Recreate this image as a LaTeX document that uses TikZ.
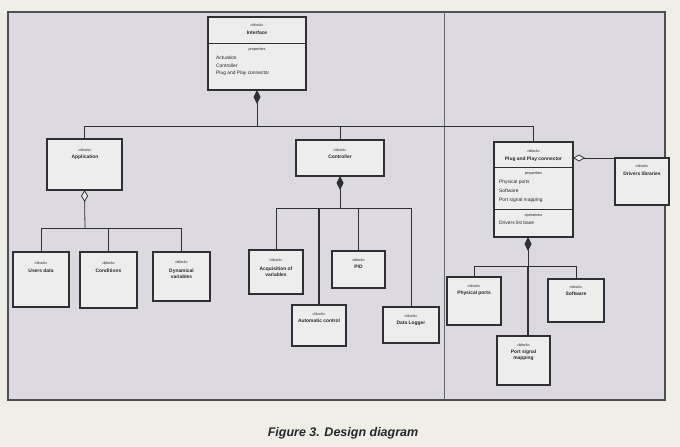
\documentclass[tikz,border=0pt]{standalone}
\usepackage{fontspec}
\setmainfont{Liberation Sans}
\usetikzlibrary{arrows.meta}
\definecolor{pagec}{HTML}{EFEFE8}
\definecolor{framec}{HTML}{DCDAE0}
\definecolor{boxc}{HTML}{EEEDEE}
\definecolor{linec}{HTML}{303034}
\definecolor{txtc}{HTML}{26262A}
\begin{document}
\begin{tikzpicture}[x=1pt,y=-1pt,
 box/.style={draw=linec, line width=1.1pt, fill=boxc, anchor=north west, inner sep=0pt, outer sep=0pt},
 st/.style={font=\fontsize{3.8}{4.5}\selectfont, inner sep=0pt, text=txtc},
 nm/.style={font=\bfseries\fontsize{4.9}{6.2}\selectfont, inner sep=0pt, align=center, text=txtc},
 pr/.style={font=\fontsize{4.9}{6}\selectfont, inner sep=0pt, anchor=west, text=txtc},
 ln/.style={draw=linec, line width=0.8pt},
 comp/.style={ln, {Diamond[length=14pt,width=7pt,fill=linec]}-},
 agg/.style={ln, {Diamond[length=12pt,width=7pt,open,fill=boxc]}-}]
\useasboundingbox (0,0) rectangle (680,447);
\fill[pagec] (0,0) rectangle (680,447);
\draw[draw=linec!85, line width=1.3pt, fill=framec] (8,12) rectangle (665,400);
\draw[draw=linec!75, line width=0.8pt] (444,12) -- (444,400);

% Interface
\node[box, minimum width=98, minimum height=73] (iface) at (208,17) {};
\node[st] (ifs) at (257,25) {«block»};
\node[nm] (ifn) at (257,33) {Interface};
\draw[ln] (208,43) -- (306,43);
\node[st] (ifp) at (257,50) {properties};
\node[pr] (if1) at (216,58) {Actuation};
\node[pr] (if2) at (216,65.5) {Controller};
\node[pr] (if3) at (216,73) {Plug and Play connector};

% Application
\node[box, minimum width=75, minimum height=51] (app) at (47,139) {};
\node[st] (apps) at (85,150) {«block»};
\node[nm] (appn) at (85,157) {Application};

% Controller
\node[box, minimum width=88, minimum height=36] (ctrl) at (296,140) {};
\node[st] (ctrls) at (340,150) {«block»};
\node[nm] (ctrln) at (340,157) {Controller};

% Plug and Play connector
\node[box, minimum width=79, minimum height=95] (pnp) at (494,142) {};
\node[st] (pnps) at (533.5,151) {«block»};
\node[nm] (pnpn) at (533.5,159) {Plug and Play connector};
\draw[ln] (494,167) -- (573,167);
\node[st] (pnpp) at (533.5,174) {properties};
\node[pr] (pp1) at (499,182) {Physical ports};
\node[pr] (pp2) at (499,191) {Software};
\node[pr] (pp3) at (499,200) {Port signal mapping};
\draw[ln] (494,209) -- (573,209);
\node[st] (pnpo) at (533.5,216) {operations};
\node[pr] (po1) at (499,223) {Drivers list base};

% Drivers libraries
\node[box, minimum width=54, minimum height=47] (drv) at (615,158) {};
\node[st] (drvs) at (642,166) {«block»};
\node[nm] (drvn) at (642,174) {Drivers libraries};

% Application children
\node[box, minimum width=56, minimum height=55] (ud) at (13,252) {};
\node[st] (uds) at (41,263) {«block»};
\node[nm] (udn) at (41,271) {Users data};
\node[box, minimum width=57, minimum height=56] (cond) at (80,252) {};
\node[st] (conds) at (108.5,263) {«block»};
\node[nm] (condn) at (108.5,271) {Conditions};
\node[box, minimum width=57, minimum height=49] (dyn) at (153,252) {};
\node[st] (dyns) at (181.5,262) {«block»};
\node[nm] (dynn) at (181.5,273.5) {Dynamical\\variables};

% Controller children
\node[box, minimum width=54, minimum height=44] (acq) at (249,250) {};
\node[st] (acqs) at (276,260) {«block»};
\node[nm] (acqn) at (276,271.5) {Acquisition of\\variables};
\node[box, minimum width=54, minimum height=41] (auto) at (292,305) {};
\node[st] (autos) at (319,314) {«block»};
\node[nm] (auton) at (319,321) {Automatic control};
\node[box, minimum width=53, minimum height=37] (pid) at (332,251) {};
\node[st] (pids) at (358.5,260) {«block»};
\node[nm] (pidn) at (358.5,267) {PID};
\node[box, minimum width=56, minimum height=36] (dlog) at (383,307) {};
\node[st] (dlogs) at (411,316) {«block»};
\node[nm] (dlogn) at (411,323) {Data Logger};

% Plug and Play children
\node[box, minimum width=54, minimum height=48] (phy) at (447,277) {};
\node[st] (phys) at (474,286) {«block»};
\node[nm] (phyn) at (474,293) {Physical ports};
\node[box, minimum width=56, minimum height=43] (soft) at (548,279) {};
\node[st] (softs) at (576,287) {«block»};
\node[nm] (softn) at (576,294) {Software};
\node[box, minimum width=53, minimum height=49] (psm) at (497,336) {};
\node[st] (psms) at (523.5,345) {«block»};
\node[nm] (psmn) at (523.5,355.5) {Port signal\\mapping};

% connectors
\coordinate (ifb) at (257,126);
\draw[comp] (iface.south) -- (ifb);
\draw[ln] (app.north) |- (ifb);
\draw[ln] (pnp.north) |- (ifb);
\draw[ln] (ctrl.north) -- (ctrl.north |- ifb);

\coordinate (apb) at (85,228);
\draw[agg] (app.south) -- (apb);
\draw[ln] (ud.north) |- (apb);
\draw[ln] (dyn.north) |- (apb);
\draw[ln] (cond.north) -- (cond.north |- apb);

\coordinate (ctb) at (340,208);
\draw[comp] (ctrl.south) -- (ctb);
\draw[ln] (acq.north) |- (ctb);
\draw[ln] (dlog.north) |- (ctb);
\draw[ln] (pid.north) -- (pid.north |- ctb);
\draw[ln, line width=1.2pt] (auto.north) -- (auto.north |- ctb);

\coordinate (pnb) at (528,266);
\draw[comp] (pnp.south -| pnb) -- (pnb);
\draw[ln] (phy.north) |- (pnb);
\draw[ln] (soft.north) |- (pnb);
\draw[ln, line width=1.2pt] (pnb) -- (psm.north -| pnb);

\draw[agg] (pnp.east |- drv.north) -- (drv.north west);

% caption
\node[font=\bfseries\itshape\fontsize{12.5}{14}\selectfont, text=txtc] (cap) at (343,433) {Figure 3. Design diagram};
\end{tikzpicture}
\end{document}
